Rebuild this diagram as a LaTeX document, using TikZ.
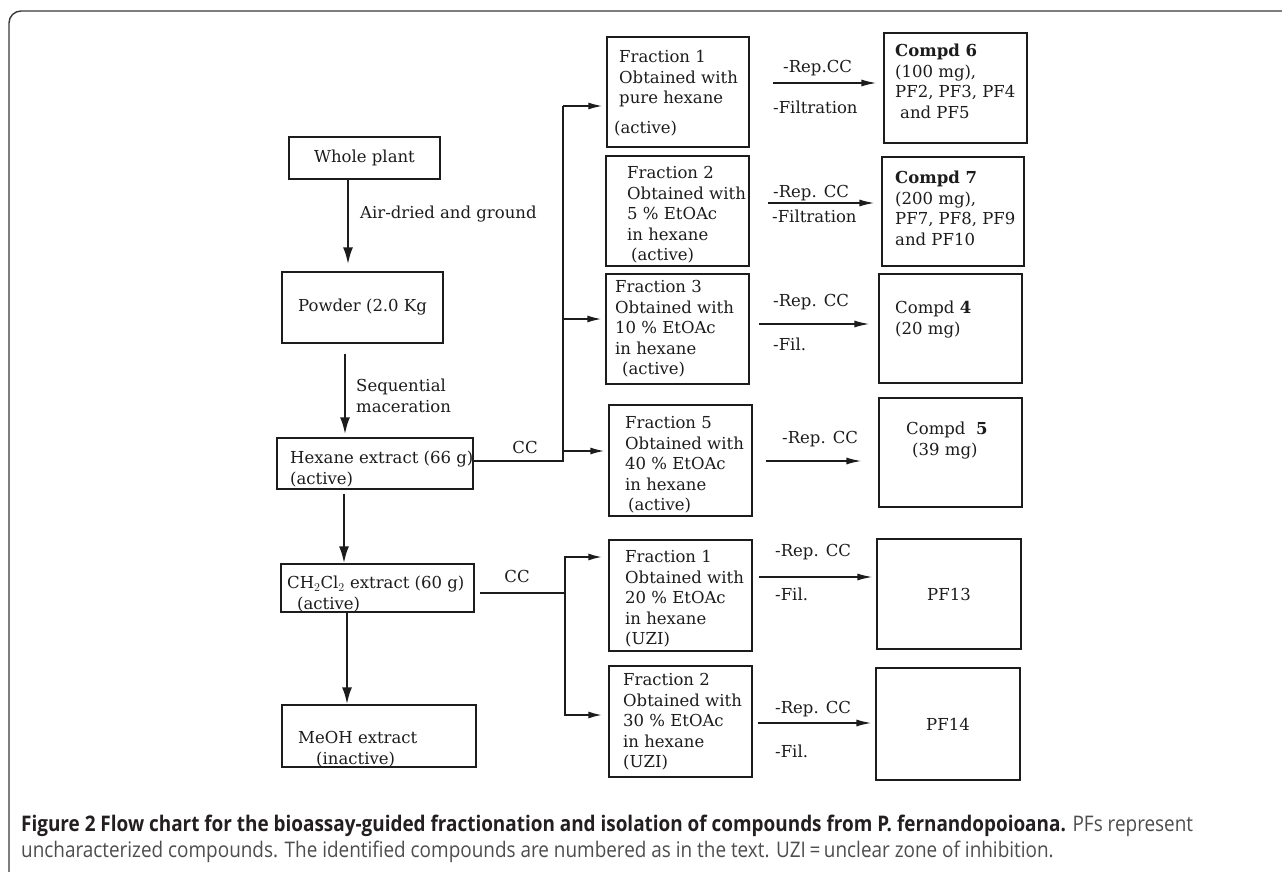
\documentclass[tikz,border=0pt]{standalone}
\usepackage{fontspec}
\setmainfont{DejaVu Serif}
\newfontfamily\capfont[FakeStretch=0.88]{Open Sans}
\usetikzlibrary{arrows.meta,calc}
\definecolor{flowInk}{HTML}{1C1C1C}
\definecolor{flowFrame}{HTML}{3A3A3A}
\definecolor{capInk}{HTML}{231F20}
\definecolor{capGrey}{HTML}{4D4D4D}
\newcommand\flowfont{\fontsize{16.5}{20.5}\selectfont}
\newcommand\capsize{\fontsize{21.5}{25}\selectfont}

\begin{document}
\begin{tikzpicture}[x=1pt,y=-1pt,>=Latex,line join=miter]
\useasboundingbox (0,0) rectangle (1282,872);
\path[fill=white] (0,0) rectangle (1282,872);
\draw[flowFrame,line width=1.4pt,rounded corners=12pt] (1290,11) -- (9,11) -- (9,880);
\tikzset{stage/.style={draw=flowInk,line width=1.3pt,inner sep=0pt,font=\flowfont,text=flowInk},
  txt/.style={inner sep=0pt,align=left,anchor=north west,font=\flowfont,text=flowInk},
  tag/.style={inner sep=0pt,anchor=west,font=\flowfont,text=flowInk,text height=14pt,text depth=3pt},
  feed/.style={draw=flowInk,line width=2.4pt,-{Latex[length=17pt,width=10pt]}},
  bus/.style={draw=flowInk,line width=2pt},
  tap/.style={draw=flowInk,line width=1.6pt,-{Latex[length=14pt,width=7pt]}},
  rep/.style={draw=flowInk,line width=1.4pt,-{Latex[length=15pt,width=7pt]}},
  caption/.style={anchor=west,inner sep=0pt}}
% extraction column
\node[stage,minimum width=151pt,minimum height=42pt] (whole) at (364.5,158) {Whole plant};
\node[stage,minimum width=161pt,minimum height=71pt] (powder) at (362.5,307.5) {Powder (2.0 Kg};
\node[stage,minimum width=196pt,minimum height=51pt] (hexane) at (375,463.5) {};
\node[stage,minimum width=193pt,minimum height=48pt] (ch2) at (377.5,588) {};
\node[stage,minimum width=194pt,minimum height=62pt] (meoh) at (379,736) {};
\node[txt] (hexane-t) at (290,449) {\strut Hexane extract (66 g)\\(active)};
\node[txt] (ch2-t) at (287,574) {\strut CH$_2$Cl$_2$ extract (60 g)\\\hspace*{10pt}(active)};
\node[txt] (meoh-t) at (298,729) {\strut MeOH extract\\\hspace*{18pt}(inactive)};
\node[tag] (dried) at (360,213) {Air-dried and ground};
\node[txt] (macer) at (356,377) {\strut Sequential\\maceration};
\node[tag,anchor=center] (cc1) at (525,448) {CC};
\node[tag,anchor=center] (cc2) at (517,577) {CC};
\draw[feed,shorten >=7pt] (348,0 |- whole.south) -- (348,0 |- powder.north);
\draw[feed,shorten <=10pt,shorten >=3pt] (345,0 |- powder.south) -- (345,0 |- hexane.north);
\draw[feed,shorten <=4pt] (344,0 |- hexane.south) -- (344,0 |- ch2.north);
\draw[feed] (347,0 |- ch2.south) -- (347,0 |- meoh.north);
% fractions
\node[stage,minimum width=142pt,minimum height=110pt] (fr1) at (678,92) {};
\node[stage,minimum width=143pt,minimum height=110pt] (fr2) at (677.5,211) {};
\node[stage,minimum width=143pt,minimum height=110pt] (fr3) at (677.5,329) {};
\node[stage,minimum width=143pt,minimum height=111pt] (fr5) at (680.5,460.5) {};
\node[stage,minimum width=143pt,minimum height=111pt] (fr1b) at (680.5,595.5) {};
\node[stage,minimum width=143pt,minimum height=111pt] (fr2b) at (680.5,721.5) {};
\node[txt] (fr1-t) at (619,48) {\strut Fraction 1\\Obtained with\\pure hexane\\[9.5pt]\hspace*{-5pt}(active)};
\node[txt] (fr2-t) at (627,164) {\strut Fraction 2\\Obtained with\\5 \% EtOAc\\in hexane\\\hspace*{4pt}(active)};
\node[txt] (fr3-t) at (615,278) {\strut Fraction 3\\Obtained with\\10 \% EtOAc\\in hexane\\\hspace*{7pt}(active)};
\node[txt] (fr5-t) at (625,414) {\strut Fraction 5\\Obtained with\\40 \% EtOAc\\in hexane\\\hspace*{3pt}(active)};
\node[txt] (fr1b-t) at (625,548) {\strut Fraction 1\\Obtained with\\20 \% EtOAc\\in hexane\\(UZI)};
\node[txt] (fr2b-t) at (623,671) {\strut Fraction 2\\Obtained with\\30 \% EtOAc\\in hexane\\(UZI)};
\coordinate (hexbus) at (563,461);
\draw[bus] (hexane.east |- hexbus) -- (hexbus) -- (hexbus |- 0,106);
\foreach \f/\y in {fr1/106,fr3/319,fr5/451}
  \draw[tap,shorten >=4pt] (hexbus |- 0,\y) -- (\f.west |- 0,\y);
\coordinate (chbus) at (565,593);
\draw[bus,shorten <=5pt] (ch2.east |- chbus) -- (chbus);
\draw[bus,line cap=rect] (chbus |- 0,557) -- (chbus |- 0,715);
\foreach \f/\y in {fr1b/557,fr2b/715}
  \draw[tap,line width=2pt,shorten >=6pt] (chbus |- 0,\y) -- (\f.west |- 0,\y);
% isolated compounds
\node[stage,minimum width=143pt,minimum height=110pt] (c6) at (955.5,88) {};
\node[stage,minimum width=142pt,minimum height=109pt] (c7) at (953,211.5) {};
\node[stage,minimum width=143pt,minimum height=109pt] (c4) at (950.5,328.5) {};
\node[stage,minimum width=143pt,minimum height=109pt] (c5) at (950.5,452.5) {};
\node[stage,minimum width=144pt,minimum height=110pt] (pf13) at (949,594) {PF13};
\node[stage,minimum width=144pt,minimum height=112pt] (pf14) at (948,724) {PF14};
\node[txt] (c6-t) at (895,42) {\strut\textbf{Compd 6}\\(100 mg),\\PF2, PF3, PF4\\\hspace*{5pt}and PF5};
\node[txt] (c7-t) at (895,169) {\strut\textbf{Compd 7}\\(200 mg),\\PF7, PF8, PF9\\and PF10};
\node[txt] (c4-t) at (895,299) {\strut Compd \textbf{4}\\(20 mg)};
\node[txt] (c5-t) at (906,420) {\strut Compd\ \ \textbf{5}\\\hspace*{6pt}(39 mg)};
\foreach \f/\c/\y/\a/\b in {fr1/c6/83/23/7,fr2/c7/203/18/7,fr3/c4/324/9/9,fr5/c5/461/13/17,fr1b/pf13/577/6/4,fr2b/pf14/723/5/4}
  \draw[rep,shorten <=\a pt,shorten >=\b pt] (\f.east |- 0,\y) -- (\c.west |- 0,\y);
\node[tag] (rep1) at (783,67) {-Rep.CC};
\node[tag] (fil1) at (773,108) {-Filtration};
\node[tag] (rep2) at (773,192) {-Rep. CC};
\node[tag] (fil2) at (772,217) {-Filtration};
\node[tag] (rep3) at (773,301) {-Rep. CC};
\node[tag] (fil3) at (773,345) {-Fil.};
\node[tag] (rep5) at (782,438) {-Rep. CC};
\node[tag] (rep1b) at (775,551) {-Rep. CC};
\node[tag] (fil1b) at (775,595) {-Fil.};
\node[tag] (rep2b) at (775,708) {-Rep. CC};
\node[tag] (fil2b) at (775,752) {-Fil.};
% caption
\node[caption] (cap1) at (21,826) {\capfont\capsize\textcolor{capInk}{\bfseries Figure 2 Flow chart for the bioassay-guided fractionation and isolation of compounds from P. fernandopoioana.} \textcolor{capGrey}{PFs represent}};
\node[caption] (cap2) at (21,852) {\capfont\capsize\color{capGrey}uncharacterized compounds. The identified compounds are numbered as in the text. UZI\,=\,unclear zone of inhibition.};
\end{tikzpicture}
\end{document}
